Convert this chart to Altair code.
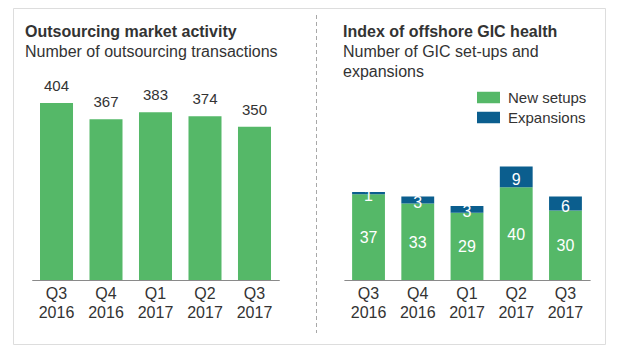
import altair as alt
import pandas as pd

quarters = ["Q3 2016", "Q4 2016", "Q1 2017", "Q2 2017", "Q3 2017"]
transactions = [404, 367, 383, 374, 350]
new_setups = [37, 33, 29, 40, 30]
expansions = [1, 3, 3, 9, 6]
series = ["New setups", "Expansions"]

GREEN = "#55b868"
BLUE = "#0b5e8e"
TXT = "#333333"
FONT = "Liberation Sans"

left_df = pd.DataFrame({"quarter": quarters, "value": transactions})
rows = []
for i, q in enumerate(quarters):
    rows.append({"quarter": q, "series": series[0], "value": new_setups[i], "order": 0})
    rows.append({"quarter": q, "series": series[1], "value": expansions[i], "order": 1})
right_df = pd.DataFrame(rows)

W, H = 592, 336

def xaxis():
    return alt.Axis(orient="bottom", offset=-64, title=None, ticks=False,
                    domainColor="#8a8a8a", domainWidth=1, labelAngle=0,
                    labelFont=FONT, labelFontSize=16, labelColor=TXT,
                    labelPadding=5, labelLineHeight=19,
                    labelExpr="split(datum.label, ' ')")

# Left panel
lx = alt.X("quarter:N", sort=quarters, axis=xaxis(),
           scale=alt.Scale(range=[18.75, 266.25], paddingInner=0.333, paddingOuter=0.1667))
ly = alt.Y("value:Q", axis=None, scale=alt.Scale(domain=[0, 404], range=[272, 95], nice=False, zero=True))
left_base = alt.Chart(left_df)
left_bars = left_base.mark_bar(color=GREEN).encode(x=lx, y=ly)
left_text = left_base.mark_text(font=FONT, fontSize=15, color=TXT, baseline="alphabetic", dy=-12).encode(
    x=lx, y=ly, text="value:Q")
left = alt.layer(left_bars, left_text)

# Right panel
rx = alt.X("quarter:N", sort=quarters, axis=xaxis(),
           scale=alt.Scale(range=[330.9, 577.1], paddingInner=0.333, paddingOuter=0.1667))
right_base = alt.Chart(right_df)
ry_scale = alt.Scale(domain=[0, 49], range=[272, 158.5], nice=False, zero=True)
right_bars = right_base.mark_bar().encode(
    x=rx,
    y=alt.Y("value:Q", stack="zero", axis=None, scale=ry_scale),
    color=alt.Color("series:N", scale=alt.Scale(domain=series, range=[GREEN, BLUE]),
                    legend=alt.Legend(orient="none", legendX=468, legendY=82, title=None,
                                      symbolType="M-2,-1L2,-1L2,1L-2,1Z",
                                      symbolSize=132, symbolStrokeWidth=0, symbolOpacity=1,
                                      labelFont=FONT, labelFontSize=15, labelColor=TXT,
                                      labelOffset=12, rowPadding=4)),
    order=alt.Order("order:Q", sort="ascending"),
)
right_stack = right_base.transform_stack(
    stack="value", groupby=["quarter"], as_=["y0", "y1"],
    sort=[alt.SortField("order", order="ascending")]
).transform_calculate(mid="(datum.y0 + datum.y1) / 2")
right_text_new = right_stack.transform_filter("datum.order == 0").mark_text(
    font=FONT, fontSize=16, color="white", baseline="middle", dy=1).encode(
    x=rx, y=alt.Y("mid:Q", axis=None, scale=ry_scale), text="value:Q")
right_text_exp = right_stack.transform_filter("datum.order == 1").mark_text(
    font=FONT, fontSize=16, color="white", baseline="middle", dy=3).encode(
    x=rx, y=alt.Y("mid:Q", axis=None, scale=ry_scale), text="value:Q")
right = alt.layer(right_bars, right_text_new, right_text_exp)

# Titles
def label(txt, x, y, bold=False):
    return alt.Chart(pd.DataFrame({"t": [txt]})).mark_text(
        font=FONT, fontSize=16, color=TXT, align="left", baseline="middle",
        fontWeight="bold" if bold else "normal").encode(
        x=alt.value(x), y=alt.value(y), text="t:N")

titles = [
    label("Outsourcing market activity", 12, 24, True),
    label("Number of outsourcing transactions", 12, 44),
    label("Index of offshore GIC health", 330, 24, True),
    label("Number of GIC set-ups and", 330, 44),
    label("expansions", 330, 64),
]

divider = alt.Chart(pd.DataFrame({"a": [0]})).mark_rule(
    color="#a8a8a8", strokeDash=[4, 3], strokeWidth=1).encode(
    x=alt.value(303.5), y=alt.value(7), y2=alt.value(325))

chart = alt.layer(left, right, divider, *titles).resolve_scale(
    x="independent", y="independent", color="independent"
).properties(
    width=W, height=H, autosize="none",
    padding={"left": 5, "top": 0, "right": 3, "bottom": 3},
).configure_view(stroke="#c4c4c4", strokeWidth=2).configure(background="white")

chart.save("out.html", embed_options={"renderer": "svg", "actions": False})
